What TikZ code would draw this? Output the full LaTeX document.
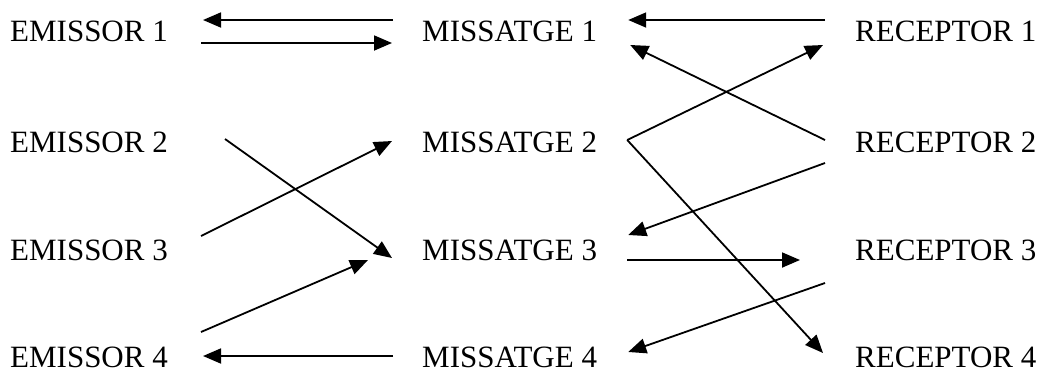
\documentclass[tikz,border=0pt]{standalone}
\usepackage{fontspec}
\setmainfont{Liberation Serif}
\usetikzlibrary{arrows.meta}
\begin{document}
\begin{tikzpicture}[x=1pt,y=-1pt,
  lbl/.style={anchor=base west,inner sep=0pt,font=\fontsize{31}{31}\selectfont},
  link/.style={line width=1.8pt,-{Triangle[length=18pt,width=15pt]}}]
\useasboundingbox (0,0) rectangle (1042,376);
% three columns of labels
\foreach \i/\y in {1/41,2/152,3/260,4/367}{
  \node[lbl] (e\i) at (10,\y) {EMISSOR \i};
  \node[lbl] (m\i) at (422,\y) {MISSATGE \i};
  \node[lbl] (r\i) at (855,\y) {RECEPTOR \i};
}
% emitters <-> messages
\draw[link] ([shift={(-29,-21)}]m1.base west) -- ([shift={(35,-21)}]e1.base east);
\draw[link] ([shift={(33,2)}]e1.base east) -- ([shift={(-30,2)}]m1.base west);
\draw[link] ([shift={(57,-13)}]e2.base east) -- ([shift={(-30,-2)}]m3.base west);
\draw[link] ([shift={(33,-24)}]e3.base east) -- ([shift={(-30,-11)}]m2.base west);
\draw[link] ([shift={(33,-35)}]e4.base east) -- ([shift={(-54,0)}]m3.base west);
\draw[link] ([shift={(-29,-11)}]m4.base west) -- ([shift={(35,-11)}]e4.base east);
% messages <-> receivers
\draw[link] ([shift={(-30,-21)}]r1.base west) -- ([shift={(31,-21)}]m1.base east);
\draw[link] ([shift={(-30,-12)}]r2.base west) -- ([shift={(33,4)}]m1.base east);
\draw[link] ([shift={(30,-12)}]m2.base east) -- ([shift={(-32,4)}]r1.base west);
\draw[link] ([shift={(30,-12)}]m2.base east) -- ([shift={(-32,-14)}]r4.base west);
\draw[link] ([shift={(-30,11)}]r2.base west) -- ([shift={(31,-25)}]m3.base east);
\draw[link] ([shift={(30,0)}]m3.base east) -- ([shift={(-55,0)}]r3.base west);
\draw[link] ([shift={(-30,23)}]r3.base west) -- ([shift={(31,-15)}]m4.base east);
\end{tikzpicture}
\end{document}
